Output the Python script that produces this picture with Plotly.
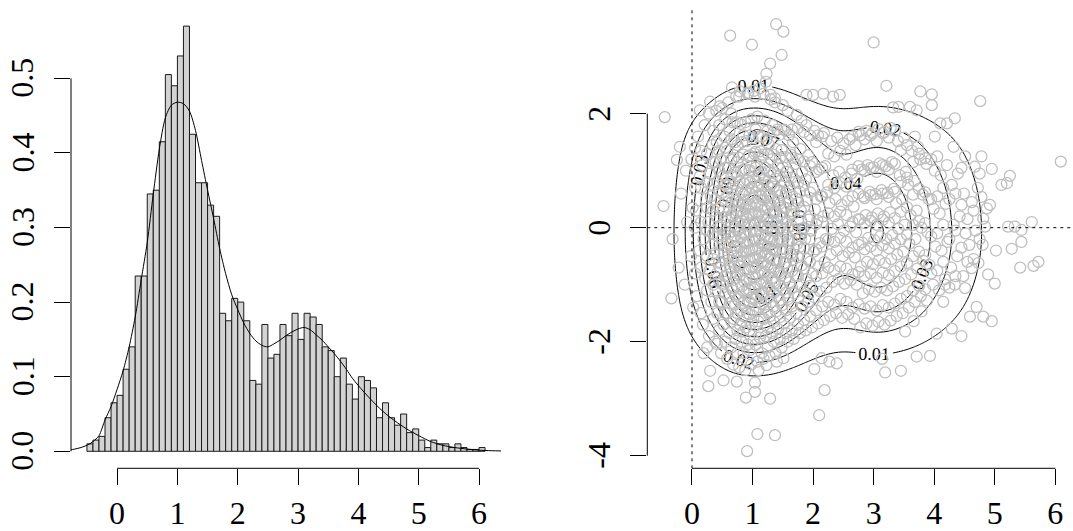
import numpy as np
import plotly.graph_objects as go

# ---------------- data: left panel (histogram + density curve) ----------------
hist_start = -0.5
hist_binwidth = 0.1
hist_density = [
    0.01, 0.015, 0.02, 0.045, 0.065, 0.075, 0.11, 0.14, 0.235, 0.235,
    0.345, 0.35, 0.415, 0.505, 0.49, 0.53, 0.57, 0.425, 0.36, 0.36,
    0.33, 0.315, 0.185, 0.175, 0.205, 0.2, 0.175, 0.095, 0.09, 0.17,
    0.125, 0.13, 0.17, 0.155, 0.185, 0.15, 0.185, 0.18, 0.17, 0.14,
    0.135, 0.1, 0.125, 0.09, 0.07, 0.1, 0.095, 0.085, 0.045, 0.065,
    0.045, 0.035, 0.05, 0.025, 0.03, 0.015, 0.005, 0.015, 0.01, 0.01,
    0.005, 0.01, 0.005, 0.0025, 0.0025, 0.005,
]

curve_x = [-0.8, -0.7, -0.6, -0.5, -0.4, -0.3, -0.2, -0.1, 0.0, 0.1, 0.2, 0.3, 0.4,
           0.5, 0.6, 0.7, 0.8, 0.9, 1.0, 1.1, 1.2, 1.3, 1.4, 1.5, 1.6, 1.7, 1.8,
           1.9, 2.0, 2.1, 2.2, 2.3, 2.4, 2.5, 2.6, 2.7, 2.8, 2.9, 3.0, 3.1, 3.2,
           3.3, 3.4, 3.5, 3.6, 3.7, 3.8, 3.9, 4.0, 4.2, 4.4, 4.6, 4.8, 5.0, 5.2,
           5.4, 5.6, 5.8, 6.0, 6.2, 6.4]
curve_y = [0.0015, 0.003, 0.005, 0.008, 0.013, 0.021, 0.042, 0.06, 0.083, 0.108, 0.14, 0.18, 0.23,
           0.28, 0.345, 0.405, 0.447, 0.464, 0.468, 0.466, 0.456, 0.43, 0.39, 0.35, 0.312, 0.272, 0.238,
           0.21, 0.19, 0.172, 0.158, 0.148, 0.142, 0.14, 0.144, 0.149, 0.155, 0.16, 0.164, 0.166, 0.163,
           0.156, 0.149, 0.14, 0.131, 0.121, 0.11, 0.098, 0.088, 0.07, 0.054, 0.041, 0.03, 0.021, 0.013,
           0.008, 0.005, 0.003, 0.0015, 0.0008, 0.0004]

left_xticks = [0, 1, 2, 3, 4, 5, 6]
left_yticks = [0.0, 0.1, 0.2, 0.3, 0.4, 0.5]
left_yticklabels = ["0.0", "0.1", "0.2", "0.3", "0.4", "0.5"]

# ---------------- data: right panel (scatter points, read/estimated) ----------------
outer_points = [
    (1.39, 3.57), (1.51, 3.44), (0.63, 3.37), (0.99, 3.21), (1.48, 3.03), (1.29, 2.88), (1.23, 2.70),
    (1.22, 2.56), (3.0, 3.25), (3.21, 2.49), (0.66, 2.46), (0.79, 2.39), (0.93, 2.37), (1.04, 2.30),
    (1.37, 2.27), (1.30, 2.33), (1.89, 2.33), (2.0, 2.33), (2.17, 2.35), (2.33, 2.30), (2.44, 2.33),
    (0.30, 2.21), (0.46, 2.13), (0.13, 2.06), (3.77, 2.39), (3.96, 2.34), (3.96, 2.15), (4.76, 2.22),
    (3.60, 2.12), (3.71, 2.06), (3.41, 2.12), (3.32, 2.11), (3.68, 1.60), (4.01, 1.60), (4.32, 1.42),
    (4.51, 1.25), (4.67, 1.07), (4.34, 1.92), (4.21, 1.83), (4.10, 1.83),
    (-0.45, 1.94), (-0.20, 1.42), (-0.25, 1.19), (-0.47, 0.38), (-0.34, -1.24),
    (6.09, 1.16), (5.61, 0.10), (5.11, 0.75), (5.20, 0.78), (5.25, 0.91), (4.95, 1.03), (4.78, 1.25),
    (4.78, 0.54), (4.87, 0.34), (4.81, 0.16), (4.84, 0.02), (5.22, 0.02), (5.33, 0.02), (5.44, -0.04),
    (5.72, -0.60), (5.64, -0.67), (5.42, -0.70), (5.28, -0.37), (5.44, -0.25), (5.0, -0.98), (4.89, -0.82),
    (4.95, -1.64), (4.81, -1.56), (4.59, -1.56), (4.70, -1.39), (4.45, -1.90), (4.29, -1.77), (4.04, -1.86),
    (3.71, -2.26), (3.93, -2.25), (3.19, -2.54), (3.45, -2.51), (3.14, -2.30), (3.52, -1.82), (3.66, -1.64),
    (3.79, -1.47), (4.51, -1.06), (4.34, -1.0), (4.18, -1.0), (4.62, -0.71), (4.73, -0.62),
    (0.91, -3.92), (1.08, -3.62), (1.37, -3.64), (2.10, -3.29), (2.19, -2.85), (1.29, -3.0), (0.89, -2.98),
    (1.04, -2.88), (1.04, -2.72), (0.27, -2.78), (0.30, -2.51), (0.52, -2.68), (0.74, -2.70), (0.19, -2.20),
    (0.41, -2.04), (2.02, -2.48), (2.14, -2.29), (2.27, -2.35), (2.39, -2.38), (1.10, -2.50), (1.23, -2.41),
    (1.40, -2.35), (1.51, -2.29),
]

core_points = [
    (-0.32, -0.2), (-0.18, 0.6), (-0.22, -0.7), (-0.12, -1.0), (-0.08, 0.1), (-0.1, 1.0),
    (0.02, -1.4), (-0.02, -0.5), (0.01, 0.35), (-0.01, 1.2),
    (0.08, -1.2), (0.12, -0.4), (0.07, 0.3), (0.13, 0.9), (0.1, 1.6),
    (0.18, -1.7), (0.22, -0.9), (0.19, -0.2), (0.23, 0.5), (0.17, 1.1), (0.21, 1.8),
    (0.28, -1.9), (0.32, -1.3), (0.29, -0.75), (0.33, -0.3), (0.27, 0.1), (0.31, 0.55), (0.3, 0.95),
    (0.34, 1.45), (0.28, 2.0),
    (0.38, -2.0), (0.42, -1.5), (0.39, -1.1), (0.41, -0.8), (0.37, -0.45), (0.43, -0.15), (0.4, 0.2),
    (0.38, 0.5), (0.42, 0.8), (0.39, 1.15), (0.41, 1.5), (0.4, 2.05),
    (0.48, -2.2), (0.52, -1.7), (0.49, -1.3), (0.51, -1.0), (0.47, -0.7), (0.53, -0.45), (0.5, -0.2),
    (0.48, 0.05), (0.52, 0.3), (0.49, 0.6), (0.51, 0.9), (0.47, 1.2), (0.53, 1.6), (0.5, 2.1),
    (0.58, -2.3), (0.62, -1.85), (0.59, -1.5), (0.61, -1.2), (0.57, -0.95), (0.63, -0.7), (0.6, -0.5),
    (0.58, -0.28), (0.62, -0.08), (0.59, 0.12), (0.61, 0.33), (0.57, 0.55), (0.63, 0.8), (0.6, 1.05),
    (0.58, 1.35), (0.62, 1.7), (0.6, 2.2),
    (0.68, -2.4), (0.72, -1.95), (0.69, -1.6), (0.71, -1.35), (0.67, -1.1), (0.73, -0.88), (0.7, -0.68),
    (0.68, -0.5), (0.72, -0.32), (0.69, -0.15), (0.71, 0.02), (0.67, 0.2), (0.73, 0.38), (0.7, 0.57),
    (0.68, 0.77), (0.72, 0.98), (0.69, 1.22), (0.71, 1.5), (0.67, 1.85), (0.73, 2.3),
    (0.78, -2.45), (0.82, -2.0), (0.79, -1.7), (0.81, -1.45), (0.77, -1.22), (0.83, -1.02), (0.8, -0.83),
    (0.78, -0.66), (0.82, -0.5), (0.79, -0.34), (0.81, -0.18), (0.77, -0.03), (0.83, 0.12), (0.8, 0.28),
    (0.78, 0.44), (0.82, 0.61), (0.79, 0.8), (0.81, 1.0), (0.77, 1.23), (0.83, 1.5), (0.8, 1.82), (0.78, 2.3),
    (0.88, -2.5), (0.92, -2.05), (0.89, -1.75), (0.91, -1.5), (0.87, -1.28), (0.93, -1.08), (0.9, -0.9),
    (0.88, -0.73), (0.92, -0.57), (0.89, -0.42), (0.91, -0.27), (0.87, -0.12), (0.93, 0.03), (0.9, 0.18),
    (0.88, 0.33), (0.92, 0.49), (0.89, 0.65), (0.91, 0.83), (0.87, 1.03), (0.93, 1.25), (0.9, 1.52),
    (0.88, 1.85), (0.92, 2.35),
    (0.98, -2.4), (1.02, -1.98), (0.99, -1.68), (1.01, -1.44), (0.97, -1.23), (1.03, -1.04), (1.0, -0.86),
    (0.98, -0.69), (1.02, -0.53), (0.99, -0.38), (1.01, -0.23), (0.97, -0.08), (1.03, 0.07), (1.0, 0.22),
    (0.98, 0.37), (1.02, 0.53), (0.99, 0.7), (1.01, 0.88), (0.97, 1.08), (1.03, 1.3), (1.0, 1.57),
    (0.98, 1.9), (1.02, 2.4),
    (1.08, -2.35), (1.12, -1.93), (1.09, -1.64), (1.11, -1.4), (1.07, -1.19), (1.13, -1.0), (1.1, -0.82),
    (1.08, -0.66), (1.12, -0.5), (1.09, -0.35), (1.11, -0.2), (1.07, -0.05), (1.13, 0.1), (1.1, 0.25),
    (1.08, 0.4), (1.12, 0.56), (1.09, 0.73), (1.11, 0.91), (1.07, 1.11), (1.13, 1.34), (1.1, 1.6),
    (1.08, 1.95), (1.12, 2.45),
    (1.18, -2.3), (1.22, -1.9), (1.19, -1.6), (1.21, -1.35), (1.17, -1.14), (1.23, -0.95), (1.2, -0.78),
    (1.18, -0.61), (1.22, -0.45), (1.19, -0.3), (1.21, -0.14), (1.17, 0.01), (1.23, 0.16), (1.2, 0.32),
    (1.18, 0.48), (1.22, 0.65), (1.19, 0.84), (1.21, 1.05), (1.17, 1.28), (1.23, 1.55), (1.2, 1.88), (1.18, 2.35),
    (1.28, -2.25), (1.32, -1.85), (1.29, -1.55), (1.31, -1.3), (1.27, -1.08), (1.33, -0.88), (1.3, -0.7),
    (1.28, -0.53), (1.32, -0.37), (1.29, -0.21), (1.31, -0.06), (1.27, 0.09), (1.33, 0.25), (1.3, 0.41),
    (1.28, 0.58), (1.32, 0.77), (1.29, 0.97), (1.31, 1.2), (1.27, 1.46), (1.33, 1.8), (1.3, 2.25),
    (1.38, -2.2), (1.42, -1.78), (1.39, -1.47), (1.41, -1.2), (1.37, -0.97), (1.43, -0.77), (1.4, -0.58),
    (1.38, -0.4), (1.42, -0.23), (1.39, -0.06), (1.41, 0.11), (1.37, 0.28), (1.43, 0.46), (1.4, 0.65),
    (1.38, 0.86), (1.42, 1.1), (1.39, 1.38), (1.41, 1.72), (1.37, 2.2),
    (1.48, -2.1), (1.52, -1.68), (1.49, -1.36), (1.51, -1.08), (1.47, -0.84), (1.53, -0.62), (1.5, -0.42),
    (1.48, -0.22), (1.52, -0.03), (1.49, 0.16), (1.51, 0.36), (1.47, 0.57), (1.53, 0.8), (1.5, 1.06),
    (1.48, 1.36), (1.52, 1.72), (1.5, 2.15),
    (1.58, -2.0), (1.62, -1.58), (1.59, -1.25), (1.61, -0.96), (1.57, -0.7), (1.63, -0.46), (1.6, -0.23),
    (1.58, 0.0), (1.62, 0.23), (1.59, 0.46), (1.61, 0.71), (1.57, 0.98), (1.63, 1.28), (1.6, 1.62), (1.58, 2.05),
    (1.68, -1.95), (1.72, -1.5), (1.69, -1.15), (1.71, -0.84), (1.67, -0.56), (1.73, -0.29), (1.7, -0.03),
    (1.68, 0.24), (1.72, 0.51), (1.69, 0.8), (1.71, 1.12), (1.67, 1.5), (1.73, 1.98),
    (1.78, -1.85), (1.82, -1.38), (1.79, -1.0), (1.81, -0.66), (1.77, -0.34), (1.83, -0.02), (1.8, 0.3),
    (1.78, 0.63), (1.82, 0.98), (1.79, 1.38), (1.81, 1.88),
    (1.88, -1.8), (1.92, -1.3), (1.89, -0.9), (1.91, -0.55), (1.87, -0.2), (1.93, 0.14), (1.9, 0.48),
    (1.88, 0.85), (1.92, 1.27), (1.89, 1.8),
    (1.98, -1.75), (2.02, -1.22), (1.99, -0.8), (2.01, -0.42), (1.97, -0.05), (2.03, 0.32), (2.0, 0.7),
    (1.98, 1.15), (2.02, 1.7),
    (2.08, -1.68), (2.12, -1.12), (2.09, -0.68), (2.11, -0.27), (2.07, 0.13), (2.13, 0.55), (2.1, 1.02), (2.08, 1.62),
    (2.18, -1.62), (2.22, -1.05), (2.19, -0.6), (2.21, -0.2), (2.17, 0.2), (2.23, 0.62), (2.2, 1.08), (2.18, 1.66),
    (2.28, -1.55), (2.32, -0.95), (2.29, -0.47), (2.31, -0.02), (2.27, 0.43), (2.33, 0.92), (2.3, 1.52),
    (2.38, -1.5), (2.42, -0.9), (2.39, -0.4), (2.41, 0.06), (2.37, 0.5), (2.43, 0.98), (2.4, 1.58),
    (2.48, -1.58), (2.52, -0.98), (2.49, -0.5), (2.51, -0.05), (2.47, 0.4), (2.53, 0.88), (2.5, 1.48),
    (2.58, -1.52), (2.62, -0.92), (2.59, -0.44), (2.61, 0.02), (2.57, 0.47), (2.63, 0.95), (2.6, 1.55),
    (2.68, -1.6), (2.72, -1.0), (2.69, -0.52), (2.71, -0.08), (2.67, 0.37), (2.73, 0.86), (2.7, 1.45),
    (2.78, -1.75), (2.82, -1.15), (2.79, -0.68), (2.81, -0.26), (2.77, 0.14), (2.83, 0.55), (2.8, 1.02), (2.78, 1.62),
    (2.88, -1.68), (2.92, -1.08), (2.89, -0.6), (2.91, -0.18), (2.87, 0.22), (2.93, 0.63), (2.9, 1.1), (2.88, 1.7),
    (2.98, -1.72), (3.02, -1.12), (2.99, -0.64), (3.01, -0.22), (2.97, 0.18), (3.03, 0.59), (3.0, 1.06), (2.98, 1.66),
    (3.08, -1.65), (3.12, -1.05), (3.09, -0.57), (3.11, -0.15), (3.07, 0.25), (3.13, 0.66), (3.1, 1.13), (3.08, 1.73),
    (3.18, -1.7), (3.22, -1.1), (3.19, -0.62), (3.21, -0.2), (3.17, 0.2), (3.23, 0.61), (3.2, 1.08), (3.18, 1.68),
    (3.28, -1.63), (3.32, -1.03), (3.29, -0.55), (3.31, -0.13), (3.27, 0.27), (3.33, 0.68), (3.3, 1.15), (3.28, 1.75),
    (3.38, -1.55), (3.42, -0.95), (3.39, -0.47), (3.41, -0.02), (3.37, 0.43), (3.43, 0.92), (3.4, 1.52),
    (3.48, -1.5), (3.52, -0.9), (3.49, -0.42), (3.51, 0.05), (3.47, 0.5), (3.53, 0.98), (3.5, 1.58),
    (3.58, -1.4), (3.62, -0.82), (3.59, -0.28), (3.61, 0.22), (3.57, 0.75), (3.63, 1.35),
    (3.68, -1.3), (3.72, -0.72), (3.69, -0.2), (3.71, 0.3), (3.67, 0.82), (3.73, 1.42),
    (3.78, -1.2), (3.82, -0.58), (3.79, 0.0), (3.81, 0.58), (3.77, 1.2),
    (3.88, -1.28), (3.92, -0.65), (3.89, -0.08), (3.91, 0.5), (3.87, 1.12),
    (3.98, -1.0), (4.02, -0.33), (3.99, 0.33), (4.01, 1.0),
    (4.08, -1.1), (4.12, -0.4), (4.09, 0.25), (4.11, 0.92),
    (4.18, -0.9), (4.22, -0.25), (4.19, 0.42), (4.21, 1.1),
    (4.28, -0.7), (4.32, 0.05), (4.29, 0.75),
    (4.38, -0.5), (4.42, 0.2), (4.39, 0.95),
    (4.48, -0.85), (4.52, -0.1), (4.49, 0.6),
    (4.58, -0.3), (4.62, 0.45), (4.68, -0.05), (4.72, 0.7), (4.8, -0.3), (4.92, 0.4), (5.02, -0.4),
]

# more core points, listed column by column: (x, [y values])
core_columns = [
    (0.05, [-0.8, 0.0, 0.7, 1.4]),
    (0.15, [-1.5, -0.7, 0.1, 0.7, 1.35]),
    (0.25, [-2.1, -1.1, -0.5, -0.05, 0.35, 0.8, 1.3]),
    (0.35, [-1.6, -1.0, -0.55, -0.1, 0.3, 0.75, 1.15, 1.7]),
    (0.45, [-1.8, -1.3, -0.95, -0.6, -0.3, 0.0, 0.35, 0.65, 1.0, 1.35, 1.8]),
    (0.55, [-2.0, -1.5, -1.15, -0.85, -0.58, -0.33, -0.08, 0.18, 0.45, 0.75, 1.05, 1.4, 1.9]),
    (0.65, [-2.1, -1.65, -1.32, -1.05, -0.8, -0.58, -0.38, -0.18, 0.02, 0.22, 0.44, 0.68, 0.92, 1.2, 1.55, 2.0]),
    (0.75, [-2.2, -1.8, -1.5, -1.25, -1.02, -0.8, -0.6, -0.41, -0.23, -0.06, 0.11, 0.29, 0.48, 0.68, 0.9,
            1.15, 1.45, 1.85]),
    (0.85, [-2.2, -1.82, -1.55, -1.32, -1.12, -0.93, -0.75, -0.58, -0.42, -0.26, -0.1, 0.06, 0.23, 0.4,
            0.58, 0.78, 1.0, 1.28, 1.62]),
    (0.95, [-2.15, -1.8, -1.52, -1.3, -1.1, -0.91, -0.73, -0.56, -0.4, -0.24, -0.08, 0.08, 0.24, 0.41,
            0.59, 0.79, 1.01, 1.27, 1.62]),
    (1.05, [-2.05, -1.72, -1.47, -1.25, -1.05, -0.87, -0.7, -0.54, -0.38, -0.22, -0.06, 0.1, 0.27, 0.44,
            0.62, 0.82, 1.05, 1.33, 1.72]),
    (1.15, [-2.2, -1.85, -1.57, -1.34, -1.14, -0.95, -0.77, -0.6, -0.44, -0.28, -0.12, 0.04, 0.2, 0.37,
            0.55, 0.75, 0.97, 1.24, 1.6]),
    (1.25, [-2.1, -1.75, -1.48, -1.24, -1.03, -0.84, -0.66, -0.49, -0.33, -0.17, 0.0, 0.17, 0.35, 0.54,
            0.75, 0.99, 1.3, 1.7]),
    (1.35, [-2.0, -1.65, -1.38, -1.15, -0.94, -0.75, -0.57, -0.4, -0.23, -0.06, 0.12, 0.3, 0.5, 0.72,
            0.97, 1.28, 1.68]),
    (1.45, [-1.95, -1.57, -1.27, -1.02, -0.8, -0.59, -0.39, -0.19, 0.01, 0.21, 0.42, 0.65, 0.91, 1.22, 1.63]),
    (1.55, [-1.85, -1.45, -1.14, -0.87, -0.62, -0.38, -0.14, 0.1, 0.35, 0.61, 0.9, 1.24, 1.7]),
    (1.65, [-1.8, -1.38, -1.05, -0.76, -0.49, -0.23, 0.03, 0.29, 0.57, 0.88, 1.23, 1.72]),
    (1.75, [-1.7, -1.22, -0.85, -0.52, -0.2, 0.12, 0.44, 0.79, 1.2, 1.75]),
    (1.85, [-1.62, -1.12, -0.72, -0.36, 0.0, 0.36, 0.74, 1.16, 1.68]),
    (1.95, [-1.55, -1.02, -0.6, -0.2, 0.2, 0.62, 1.08, 1.62]),
    (2.05, [-1.45, -0.85, -0.38, 0.06, 0.5, 0.98, 1.5]),
    (2.15, [-1.38, -0.8, -0.33, 0.1, 0.55, 1.05, 1.6]),
    (2.25, [-1.3, -0.7, -0.22, 0.25, 0.75, 1.3]),
    (2.35, [-1.35, -0.75, -0.25, 0.2, 0.7, 1.25]),
    (2.45, [-1.25, -0.68, -0.18, 0.28, 0.78, 1.35]),
    (2.55, [-1.3, -0.72, -0.25, 0.22, 0.72, 1.28]),
    (2.65, [-1.4, -0.82, -0.35, 0.1, 0.55, 1.02, 1.6]),
    (2.75, [-1.35, -0.78, -0.3, 0.15, 0.6, 1.08, 1.68]),
    (2.85, [-1.42, -0.85, -0.38, 0.08, 0.52, 1.0, 1.55]),
    (2.95, [-1.38, -0.8, -0.33, 0.12, 0.57, 1.05, 1.62]),
    (3.05, [-1.45, -0.88, -0.4, 0.05, 0.5, 0.98, 1.52]),
    (3.15, [-1.36, -0.79, -0.31, 0.14, 0.6, 1.1, 1.66]),
    (3.25, [-1.4, -0.83, -0.36, 0.09, 0.54, 1.02, 1.58]),
    (3.35, [-1.33, -0.76, -0.28, 0.17, 0.63, 1.12, 1.7]),
    (3.45, [-1.25, -0.68, -0.2, 0.28, 0.8, 1.36]),
    (3.55, [-1.2, -0.62, -0.12, 0.36, 0.88, 1.45]),
    (3.65, [-1.1, -0.5, 0.05, 0.58, 1.15]),
    (3.75, [-1.02, -0.42, 0.12, 0.68, 1.3]),
    (3.85, [-1.08, -0.48, 0.08, 0.62, 1.22]),
    (3.95, [-0.8, -0.15, 0.5, 1.2]),
    (4.05, [-0.75, -0.1, 0.55, 1.25]),
    (4.15, [-1.3, -0.6, 0.05, 0.7]),
    (4.25, [-1.05, -0.2, 0.5]),
    (4.35, [-0.85, -0.05, 0.6]),
    (4.45, [-0.35, 0.4, 1.05]),
    (4.55, [-0.6, 0.15]),
    (4.65, [-0.55, 0.3]),
    (4.75, [-0.2, 0.95]),
]

core_x = [p[0] for p in core_points] + [c for c, ys in core_columns for _ in ys]
core_y = [p[1] for p in core_points] + [y for c, ys in core_columns for y in ys]
scatter_x = [p[0] for p in outer_points] + core_x
scatter_y = [p[1] for p in outer_points] + core_y

right_xticks = [0, 1, 2, 3, 4, 5, 6]
right_yticks = [-4, -2, 0, 2]
right_yticklabels = ["-4", "-2", "0", "2"]

contour_start, contour_end, contour_step = 0.01, 0.17, 0.01
y_bandwidth = 0.38     # kernel sd for the y direction
x_extra_smooth = 0.18  # extra kernel sd applied to the x density curve
grid_n = 160

# ---------------- joint density: smoothed x-density curve times y kernel density ----------------
sx = np.array(scatter_x)
sy = np.array(scatter_y)
gx = np.linspace(sx.min(), sx.max(), grid_n)
gy = np.linspace(sy.min(), sy.max(), grid_n)
fine_x = np.linspace(-1.5, 7.0, 851)
fine_f = np.interp(fine_x, curve_x, curve_y, left=0.0, right=0.0)
kern = np.exp(-0.5 * ((gx[:, None] - fine_x[None, :]) / x_extra_smooth) ** 2)
fx = (kern * fine_f[None, :]).sum(axis=1) / kern.sum(axis=1)
cy = np.array(core_y)
fy = np.exp(-0.5 * ((gy[None, :] - cy[:, None]) / y_bandwidth) ** 2).sum(axis=0)
fy = fy / (len(cy) * y_bandwidth * np.sqrt(2 * np.pi))
Z = np.outer(fy, fx)

# ---------------- figure ----------------
W, H = 1073, 531
FONT = "Liberation Serif"
TICKSIZE = 32

bin_centers = [hist_start + hist_binwidth * (i + 0.5) for i in range(len(hist_density))]

fig = go.Figure()
fig.add_trace(go.Bar(
    x=bin_centers, y=hist_density, width=hist_binwidth,
    marker=dict(color="#D3D3D3", line=dict(color="#1a1a1a", width=1)),
    xaxis="x", yaxis="y", hoverinfo="skip",
))
fig.add_trace(go.Scatter(
    x=curve_x, y=curve_y, mode="lines",
    line=dict(color="black", width=1, shape="spline", smoothing=0.8),
    xaxis="x", yaxis="y", hoverinfo="skip",
))
fig.add_trace(go.Scatter(
    x=scatter_x, y=scatter_y, mode="markers",
    marker=dict(symbol="circle-open", size=11, color="#BEBEBE", line=dict(width=1.25)),
    xaxis="x2", yaxis="y2", hoverinfo="skip",
))
fig.add_trace(go.Contour(
    x=gx, y=gy, z=Z,
    contours=dict(start=contour_start, end=contour_end, size=contour_step,
                  coloring="none", showlabels=True,
                  labelfont=dict(family=FONT, size=18, color="black"),
                  labelformat=".2~f"),
    line=dict(color="black", width=1, smoothing=1),
    showscale=False, xaxis="x2", yaxis="y2", hoverinfo="skip",
))

ydom = [(H - 468.3) / H, (H - 9.1) / H]
common = dict(showgrid=False, zeroline=False, showline=False, ticks="outside",
              ticklen=16, tickwidth=1, tickcolor="black",
              tickfont=dict(family=FONT, size=TICKSIZE, color="black"))

fig.update_layout(
    width=W, height=H, autosize=False,
    margin=dict(l=0, r=0, t=0, b=0),
    paper_bgcolor="white", plot_bgcolor="white",
    showlegend=False, bargap=0, hovermode=False,
    xaxis=dict(domain=[71 / W, 501 / W], range=[-0.764, 6.364], anchor="y",
               tickmode="array", tickvals=left_xticks, ticktext=[str(v) for v in left_xticks], **common),
    yaxis=dict(domain=ydom, range=[-0.0228, 0.5928], anchor="x",
               tickmode="array", tickvals=left_yticks, showticklabels=False, **common),
    xaxis2=dict(domain=[647.3 / W, 1.0], range=[-0.738, 6.292], anchor="y2",
                tickmode="array", tickvals=right_xticks, ticktext=[str(v) for v in right_xticks], **common),
    yaxis2=dict(domain=ydom, range=[-4.221, 3.835], anchor="x2",
                tickmode="array", tickvals=right_yticks, showticklabels=False, **common),
)

# rotated y tick labels (R style: parallel to the axis)
annotations = []
for v, t in zip(left_yticks, left_yticklabels):
    annotations.append(dict(x=22.5 / W, xref="paper", y=v, yref="y", text=t, textangle=-90,
                            showarrow=False, xanchor="center", yanchor="middle",
                            font=dict(family=FONT, size=TICKSIZE, color="black")))
for v, t in zip(right_yticks, right_yticklabels):
    annotations.append(dict(x=599 / W, xref="paper", y=v, yref="y2", text=t, textangle=-90,
                            showarrow=False, xanchor="center", yanchor="middle",
                            font=dict(family=FONT, size=TICKSIZE, color="black")))
fig.update_layout(annotations=annotations)

axis_line = dict(color="black", width=1)
shapes = [
    dict(type="line", xref="x", yref="y domain", x0=left_xticks[0], x1=left_xticks[-1], y0=0, y1=0, line=axis_line),
    dict(type="line", xref="x domain", yref="y", x0=0, x1=0, y0=left_yticks[0], y1=left_yticks[-1], line=axis_line),
    dict(type="line", xref="x2", yref="y2 domain", x0=right_xticks[0], x1=right_xticks[-1], y0=0, y1=0, line=axis_line),
    dict(type="line", xref="x2 domain", yref="y2", x0=0, x1=0, y0=right_yticks[0], y1=right_yticks[-1], line=axis_line),
    dict(type="line", xref="x2", yref="y2 domain", x0=0, x1=0, y0=0, y1=1,
         line=dict(color="black", width=1, dash="3px,4px")),
    dict(type="line", xref="x2 domain", yref="y2", x0=0, x1=1, y0=0, y1=0,
         line=dict(color="black", width=1, dash="3px,4px")),
]
fig.update_layout(shapes=shapes)

fig.write_html("out.html", config={"displayModeBar": False, "staticPlot": True},
               post_script="document.body.style.margin='0px';document.body.style.padding='0px';")
